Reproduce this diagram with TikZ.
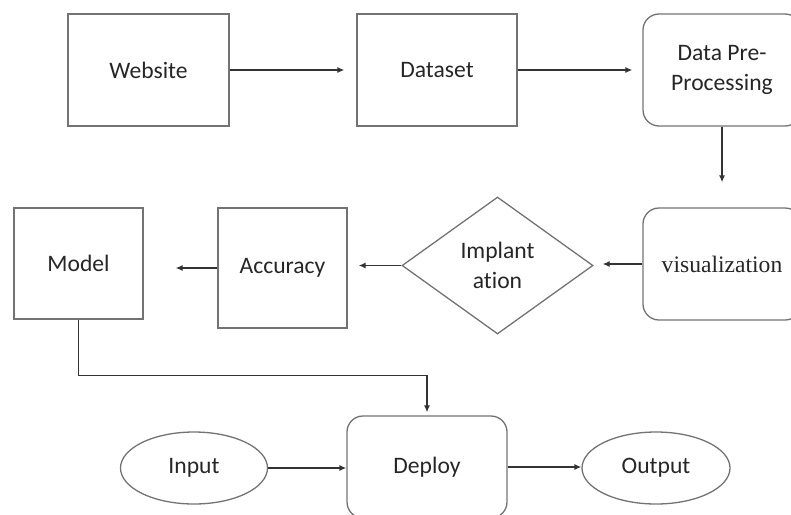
\documentclass[tikz,border=0pt]{standalone}
\usepackage{fontspec}
\setmainfont{Carlito}[Ligatures=NoCommon]
\newfontfamily\visfont{Liberation Serif}
\usetikzlibrary{shapes.geometric,arrows.meta}
\begin{document}
\begin{tikzpicture}[x=1pt,y=-1pt,
  every node/.style={font=\fontsize{23.6}{30}\selectfont, text=black!85, inner sep=0pt, line width=1.3pt, draw=black!55},
  box/.style={rectangle, draw},
  rbox/.style={rectangle, rounded corners=16pt, draw},
  arr/.style={draw=black!80, line width=1.3pt, -{Latex[length=7pt,width=6pt]}}
]
\path[use as bounding box, clip] (0,0) rectangle (791,514);

\node[box, minimum width=161pt, minimum height=112pt] (web) at (148.5,70) {Website};
\node[box, minimum width=160pt, minimum height=112pt] (data) at (437,70) {Dataset};
\node[rbox, minimum width=158pt, minimum height=112pt, align=center] (pre) at (722,70) {Data Pre-\\Processing};
\node[rbox, minimum width=158pt, minimum height=112pt, font=\visfont\fontsize{23.6}{30}\selectfont] (vis) at (722,264) {visualization};
\node[diamond, draw, aspect=1.4, minimum width=191pt, minimum height=137pt, align=center] (dia) at (497.5,265.5) {Implant\\ation};
\node[box, minimum width=129pt, minimum height=120pt] (acc) at (282.5,268) {Accuracy};
\node[box, minimum width=129pt, minimum height=111pt] (model) at (78.5,263.5) {Model};
\node[rbox, minimum width=160pt, minimum height=102pt] (dep) at (427,467) {Deploy};
\node[ellipse, draw, minimum width=147pt, minimum height=72pt] (in) at (194,468) {Input};
\node[ellipse, draw, minimum width=148pt, minimum height=72pt] (out) at (656,468) {Output};

\draw[arr, shorten >=12pt] (web) -- (data);
\draw[arr, shorten >=10pt] (data) -- (pre);
\draw[arr, shorten >=25pt] (pre) -- (vis);
\draw[arr, shorten >=9pt] (vis.west) -- (vis.west -| dia.east);
\draw[arr, shorten >=11pt] (dia.west) -- (dia.west -| acc.east);
\draw[arr, shorten >=32pt] (acc.west) -- (acc.west -| model.east);
\draw[arr, shorten >=3pt] (model.south) -- ++(0,56) -| (dep.north);
\draw[arr] (in.east) -- (in.east -| dep.west);
\draw[arr] (dep.east) -- (dep.east -| out.west);
\end{tikzpicture}
\end{document}
